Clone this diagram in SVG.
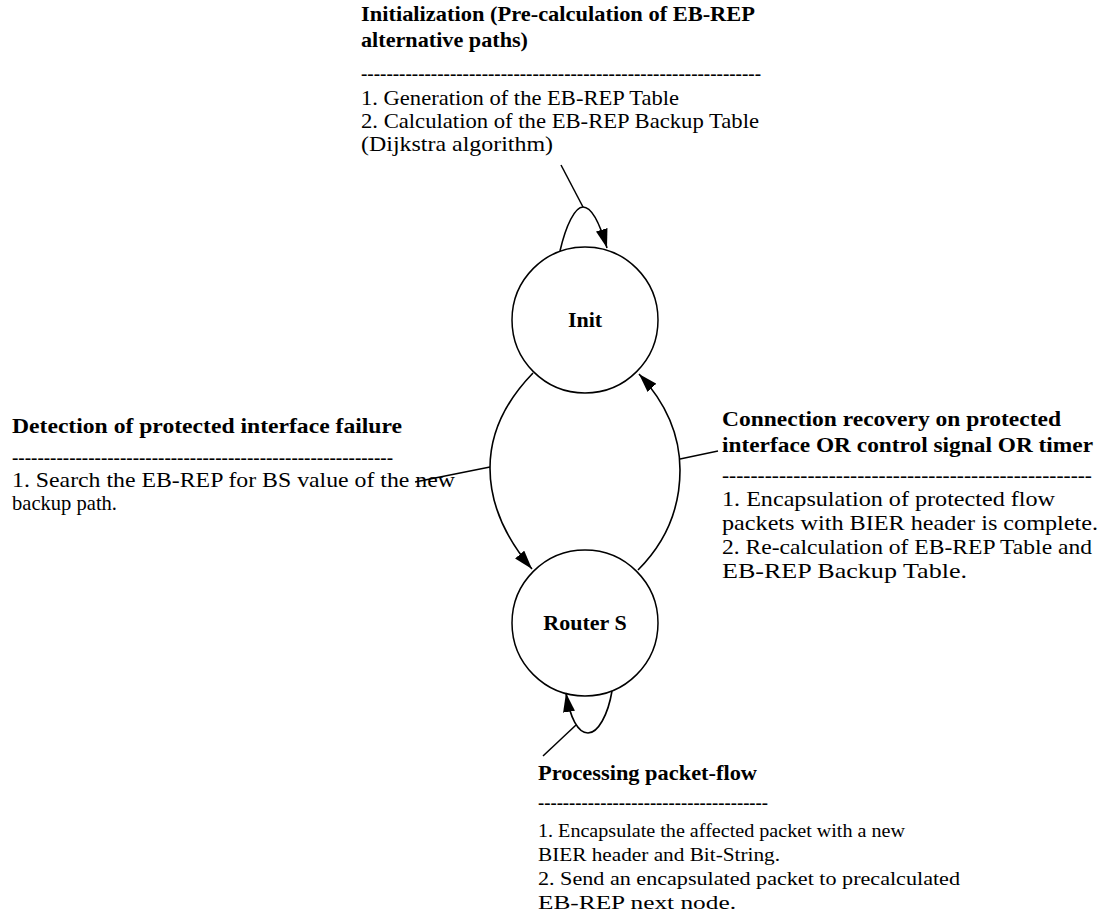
<svg xmlns="http://www.w3.org/2000/svg" width="1101" height="917" viewBox="0 0 1101 917">
  <style>
    text { font-family: "Liberation Serif", "Times New Roman", serif; font-size: 21px; fill: #000; }
    .b { font-weight: bold; }
    .s { font-size: 19px; }
    .node { fill: #fff; stroke: #000; stroke-width: 1.5; }
    .lbl { font-weight: bold; text-anchor: middle; font-size: 22px; }
    .edge { fill: none; stroke: #000; stroke-width: 1.6; }
    .tie { fill: none; stroke: #000; stroke-width: 1.5; }
  </style>
  <defs>
    <marker id="arrow" viewBox="0 0 19 12" markerWidth="19" markerHeight="12" refX="19" refY="6" orient="auto" markerUnits="userSpaceOnUse">
      <path d="M0,0 L19,6 L0,12 z" fill="#000"/>
    </marker>
  </defs>

  <!-- state nodes -->
  <g id="node-init">
    <circle class="node" cx="585" cy="320" r="73"/>
    <text class="lbl" x="585" y="327">Init</text>
  </g>
  <g id="node-router-s">
    <circle class="node" cx="585" cy="623" r="73"/>
    <text class="lbl" x="585" y="630">Router S</text>
  </g>

  <!-- transitions and their label ties -->
  <g id="connectors">
    <path class="edge" d="M560,251 C566,225 575,207 583,207 C592,207 600,224 607,248" marker-end="url(#arrow)"/>
    <path class="edge" d="M533,373 C502,405 490,438 490,468 C490,500 503,535 532,569" marker-end="url(#arrow)"/>
    <path class="edge" d="M638,570 C668,540 680,505 680,470 C680,437 668,405 639,374" marker-end="url(#arrow)"/>
    <path class="edge" d="M612,691 C608,715 598,733 588,733 C578,733 570,718 566,693" marker-end="url(#arrow)"/>
    <line class="tie" x1="561" y1="165" x2="583" y2="207"/>
    <line class="tie" x1="415" y1="482" x2="490" y2="467"/>
    <line class="tie" x1="680" y1="459" x2="718" y2="451"/>
    <line class="tie" x1="543" y1="756" x2="576" y2="725"/>
  </g>

  <!-- annotation blocks -->
  <g id="note-init">
    <text class="b" x="361" y="21" textLength="394" lengthAdjust="spacingAndGlyphs">Initialization (Pre-calculation of EB-REP</text>
    <text class="b" x="361" y="47" textLength="167" lengthAdjust="spacingAndGlyphs">alternative paths)</text>
    <text x="361" y="80" textLength="400" lengthAdjust="spacingAndGlyphs">---------------------------------------------------------------</text>
    <text x="361" y="105" textLength="318" lengthAdjust="spacingAndGlyphs">1. Generation of the EB-REP Table</text>
    <text x="361" y="128" textLength="398" lengthAdjust="spacingAndGlyphs">2. Calculation of the EB-REP Backup Table</text>
    <text x="361" y="151" textLength="192" lengthAdjust="spacingAndGlyphs">(Dijkstra algorithm)</text>
  </g>

  <g id="note-failure">
    <text class="b" x="12" y="433" textLength="390" lengthAdjust="spacingAndGlyphs">Detection of protected interface failure</text>
    <text x="12" y="464" textLength="381" lengthAdjust="spacingAndGlyphs">------------------------------------------------------------</text>
    <text x="12" y="487" textLength="443" lengthAdjust="spacingAndGlyphs">1. Search the EB-REP for BS value of the new</text>
    <text x="12" y="510" textLength="105" lengthAdjust="spacingAndGlyphs">backup path.</text>
  </g>

  <g id="note-recovery">
    <text class="b" x="722" y="426" textLength="339" lengthAdjust="spacingAndGlyphs">Connection recovery on protected</text>
    <text class="b" x="722" y="452" textLength="371" lengthAdjust="spacingAndGlyphs">interface OR control signal OR timer</text>
    <text x="722" y="482" textLength="370" lengthAdjust="spacingAndGlyphs">----------------------------------------------------</text>
    <text x="722" y="506" textLength="333" lengthAdjust="spacingAndGlyphs">1. Encapsulation of protected flow</text>
    <text x="722" y="530" textLength="376" lengthAdjust="spacingAndGlyphs">packets with BIER header is complete.</text>
    <text x="722" y="554" textLength="370" lengthAdjust="spacingAndGlyphs">2. Re-calculation of EB-REP Table and</text>
    <text x="722" y="578" textLength="245" lengthAdjust="spacingAndGlyphs">EB-REP Backup Table.</text>
  </g>

  <g id="note-processing">
    <text class="b" x="538" y="780" textLength="219" lengthAdjust="spacingAndGlyphs">Processing packet-flow</text>
    <text x="538" y="809" textLength="230" lengthAdjust="spacingAndGlyphs">-------------------------------------</text>
    <text class="s" x="538" y="837" textLength="367" lengthAdjust="spacingAndGlyphs">1. Encapsulate the affected packet with a new</text>
    <text class="s" x="538" y="861" textLength="242" lengthAdjust="spacingAndGlyphs">BIER header and Bit-String.</text>
    <text class="s" x="538" y="885" textLength="422" lengthAdjust="spacingAndGlyphs">2. Send an encapsulated packet to precalculated</text>
    <text class="s" x="538" y="909" textLength="198" lengthAdjust="spacingAndGlyphs">EB-REP next node.</text>
  </g>
</svg>
